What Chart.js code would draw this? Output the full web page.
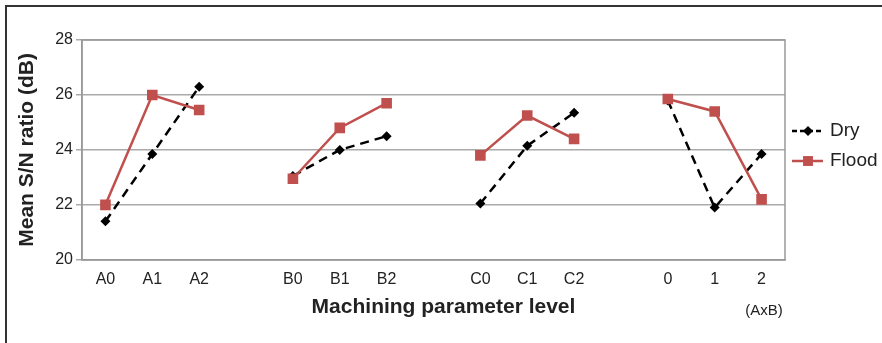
<!DOCTYPE html>
<html>
<head>
<meta charset="utf-8">
<script src="https://cdn.jsdelivr.net/npm/chart.js@4/dist/chart.umd.min.js"></script>
<style>
  html, body { margin: 0; padding: 0; background: #fff; }
  #wrap { position: relative; width: 882px; height: 343px; }
  #frame { position: absolute; left: 5px; top: 5px; width: 877px; height: 338px;
           border-top: 2px solid #333; border-left: 2px solid #333; box-sizing: border-box; }
  canvas { position: absolute; left: 0; top: 0; }
</style>
</head>
<body>
<div id="wrap">
  <canvas id="line-chart" width="882" height="343"></canvas>
  <div id="frame"></div>
</div>
<script>
// categories, with an empty slot between the factor groups
const labels_line = ["A0", "A1", "A2", "", "B0", "B1", "B2", "", "C0", "C1", "C2", "", "0", "1", "2"];
const dry = [21.4, 23.85, 26.3, null, 23.05, 24.0, 24.5, null, 22.05, 24.15, 25.35, null, 25.8, 21.9, 23.85];
const flood = [22.0, 26.0, 25.45, null, 22.95, 24.8, 25.7, null, 23.8, 25.25, 24.4, null, 25.85, 25.4, 22.2];
const y_ticks = [20, 22, 24, 26, 28];

const FONT = "'Liberation Sans', Arial, sans-serif";
const RED = "#c0504d";

// frame around plot, x title, legend, (AxB) note
const extras = {
  id: "extras",
  afterDraw(chart) {
    const ctx = chart.ctx;
    const a = chart.chartArea;
    ctx.save();
    ctx.strokeStyle = "#999";
    ctx.lineWidth = 1.5;
    ctx.strokeRect(a.left, a.top, a.right - a.left, a.bottom - a.top);

    ctx.fillStyle = "#222";
    ctx.textAlign = "center";
    ctx.textBaseline = "middle";
    ctx.font = "bold 21px " + FONT;
    ctx.fillText("Machining parameter level", (a.left + a.right) / 2 + 10, 307);

    // legend
    const items = [
      { text: "Dry", color: "#000", dash: [5, 3], style: "rectRot", r: 5 },
      { text: "Flood", color: RED, dash: [], style: "rect", r: 7 },
    ];
    const lx = a.right + 7;
    items.forEach((it, i) => {
      const y = 131 + i * 30;
      ctx.strokeStyle = it.color;
      ctx.lineWidth = 2.5;
      ctx.setLineDash(it.dash);
      ctx.beginPath();
      ctx.moveTo(lx, y);
      ctx.lineTo(lx + 31, y);
      ctx.stroke();
      ctx.setLineDash([]);
      ctx.fillStyle = it.color;
      Chart.helpers.drawPoint(ctx, { pointStyle: it.style, radius: it.r, borderWidth: 0 }, lx + 16, y);
      ctx.fillStyle = "#222";
      ctx.font = "19px " + FONT;
      ctx.textAlign = "left";
      ctx.fillText(it.text, lx + 38, y);
    });

    ctx.font = "15px " + FONT;
    ctx.fillStyle = "#222";
    ctx.textAlign = "center";
    ctx.fillText("(AxB)", a.right - 21, 311);
    ctx.restore();
  },
};

const data_line = {
  labels: labels_line,
  datasets: [
    {
      label: "Dry",
      data: dry,
      order: 1,
      borderColor: "#000",
      backgroundColor: "#000",
      borderWidth: 2.5,
      borderDash: [9, 6],
      pointStyle: "rectRot",
      pointRadius: 5,
      pointBorderWidth: 0,
      spanGaps: false,
    },
    {
      label: "Flood",
      data: flood,
      order: 0,
      borderColor: RED,
      backgroundColor: RED,
      borderWidth: 2.5,
      pointStyle: "rect",
      pointRadius: 7.5,
      pointBorderWidth: 0,
      spanGaps: false,
    },
  ],
};

const config_line = {
  type: "line",
  data: data_line,
  plugins: [extras],
  options: {
    responsive: false,
    animation: false,
    layout: { padding: { left: 15, top: 40, right: 97, bottom: 44 } },
    plugins: {
      legend: { display: false },
      tooltip: { enabled: false },
    },
    scales: {
      x: {
        offset: true,
        grid: { display: false, drawTicks: false },
        border: { color: "#999", width: 1.5 },
        ticks: { color: "#222", font: { family: FONT, size: 16 }, padding: 10, autoSkip: false, maxRotation: 0 },
      },
      y: {
        min: 20,
        max: 28,
        afterBuildTicks: (axis) => { axis.ticks = y_ticks.map((v) => ({ value: v })); },
        grid: { color: "#aaa", lineWidth: 1.5, tickLength: 6 },
        border: { color: "#999", width: 1.5 },
        ticks: { color: "#222", font: { family: FONT, size: 16 }, padding: 3 },
        title: {
          display: true,
          text: "Mean S/N ratio (dB)",
          color: "#222",
          font: { family: FONT, size: 21, weight: "bold" },
          padding: { top: 0, bottom: 12 },
        },
      },
    },
  },
};

var ctx_line = document.getElementById("line-chart").getContext("2d");
var myChart_line = new Chart(ctx_line, config_line);
</script>
</body>
</html>
